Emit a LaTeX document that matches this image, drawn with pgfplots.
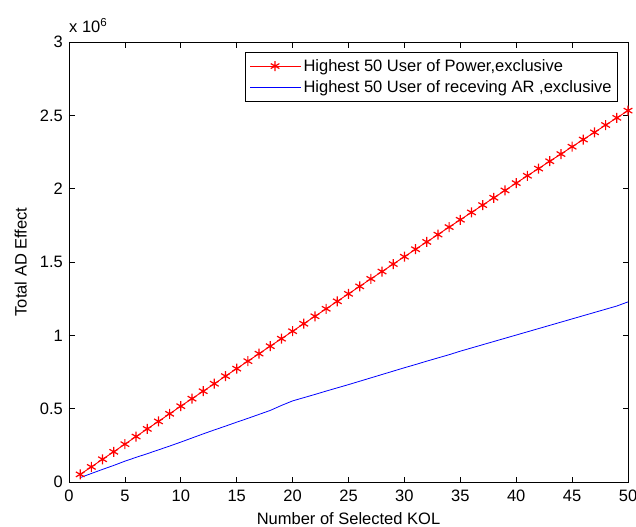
\documentclass[border=0pt]{standalone}
\usepackage{pgfplots}
\pgfplotsset{compat=1.18}
\usepackage{fontspec}
\setmainfont{Liberation Sans}
\newcommand{\fs}{\fontsize{16.5bp}{19bp}\selectfont}
\begin{document}
\begin{tikzpicture}
\begin{axis}[
  scale only axis,
  width=559bp, height=440bp,
  xmin=0, xmax=50, ymin=0, ymax=3,
  xtick={0,5,...,50},
  ytick={0,0.5,1,1.5,2,2.5,3},
  yticklabels={0,0.5,1,1.5,2,2.5,3},
  tick align=inside,
  major tick length=5.5bp,
  axis line style={line width=0.8pt},
  every tick/.style={black, line width=0.7pt},
  /pgf/number format/assume math mode=true,
  tick label style={font=\fs, inner sep=0pt},
  xticklabel style={anchor=north, yshift=-8bp},
  yticklabel style={anchor=east, xshift=-6bp},
  label style={font=\fs, inner sep=0pt},
  xlabel={Number of Selected KOL},
  ylabel={Total AD Effect},
  xlabel style={at={(axis description cs:0.5,0)}, anchor=base, yshift=-42bp},
  ylabel style={at={(axis description cs:0,0.5)}, anchor=south, yshift=42bp},
  legend style={at={(1,1)}, anchor=north east, xshift=-10bp, yshift=-10bp,
    font=\fs, draw=black, line width=0.7pt,
    inner xsep=4bp, inner ysep=5bp, row sep=4bp},
  legend cell align=left,
  legend image code/.code={\draw[mark repeat=2,mark phase=2,#1] plot coordinates {(0bp,0bp) (25bp,0bp) (51bp,0bp)};},
  clip=false,
]
\addplot[red, line width=0.9pt, mark=asterisk, mark size=5bp, mark options={line width=1.2pt}] coordinates {
(1,0.052)(2,0.103)(3,0.155)(4,0.206)(5,0.258)(6,0.310)(7,0.362)(8,0.413)(9,0.465)(10,0.517)
(11,0.568)(12,0.619)(13,0.670)(14,0.722)(15,0.773)(16,0.824)(17,0.875)(18,0.926)(19,0.977)(20,1.028)
(21,1.079)(22,1.130)(23,1.181)(24,1.232)(25,1.283)(26,1.334)(27,1.385)(28,1.435)(29,1.486)(30,1.536)
(31,1.587)(32,1.637)(33,1.687)(34,1.738)(35,1.788)(36,1.838)(37,1.888)(38,1.938)(39,1.988)(40,2.038)
(41,2.088)(42,2.137)(43,2.187)(44,2.236)(45,2.286)(46,2.335)(47,2.384)(48,2.434)(49,2.483)(50,2.532)
};
\addlegendentry{Highest 50 User of Power,exclusive}
\addplot[blue, line width=0.8pt] coordinates {
(1,0.030)(2,0.058)(3,0.086)(4,0.113)(5,0.142)(6,0.168)(7,0.193)(8,0.219)(9,0.245)(10,0.272)
(11,0.300)(12,0.328)(13,0.355)(14,0.381)(15,0.408)(16,0.434)(17,0.461)(18,0.488)(19,0.522)(20,0.553)
(21,0.575)(22,0.597)(23,0.620)(24,0.642)(25,0.664)(26,0.687)(27,0.710)(28,0.733)(29,0.756)(30,0.779)
(31,0.801)(32,0.824)(33,0.846)(34,0.868)(35,0.892)(36,0.914)(37,0.936)(38,0.958)(39,0.980)(40,1.002)
(41,1.024)(42,1.046)(43,1.068)(44,1.090)(45,1.112)(46,1.134)(47,1.156)(48,1.178)(49,1.200)(50,1.228)
};
\addlegendentry{Highest 50 User of receving AR ,exclusive}
\node[anchor=base west, font=\fs, inner sep=0pt] at (rel axis cs:0,1) [yshift=9bp] {x 10\textsuperscript{6}};
\end{axis}
\pgfresetboundingbox
\path ([shift={(-69bp,-45bp)}]current axis.south west) rectangle ([shift={(8bp,42bp)}]current axis.north east);
\end{tikzpicture}
\end{document}
